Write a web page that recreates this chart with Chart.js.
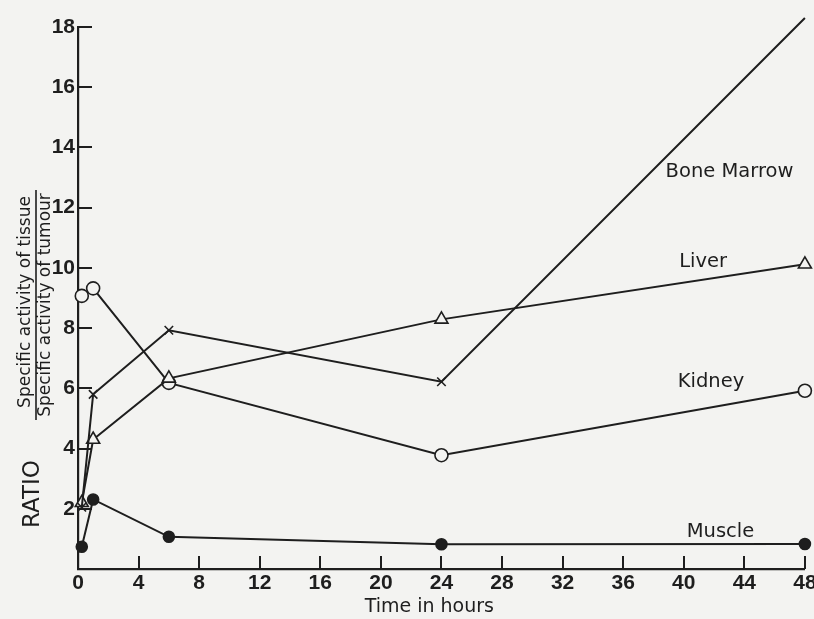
<!DOCTYPE html>
<html>
<head>
<meta charset="utf-8">
<script src="https://cdn.jsdelivr.net/npm/chart.js@4.4.1/dist/chart.umd.min.js"></script>
<style>
  html, body { margin: 0; padding: 0; background: #f3f3f1; }
  #wrap { width: 814px; height: 619px; }
</style>
</head>
<body>
<div id="wrap"><canvas id="c" width="814" height="619"></canvas></div>
<script>
// ---- data ----
const times      = [0.25, 1, 6, 24, 48];            // hours
const boneMarrow = [2.05, 5.8, 7.93, 6.22, 18.3];
const liver      = [2.2, 4.3, 6.33, 8.29, 10.12];
const kidney     = [9.07, 9.32, 6.18, 3.78, 5.92];
const muscle     = [0.74, 2.31, 1.07, 0.82, 0.83];
const seriesNames = ['Bone Marrow', 'Liver', 'Kidney', 'Muscle'];
const xTickValues = [0, 4, 8, 12, 16, 20, 24, 28, 32, 36, 40, 44, 48];
const yTickValues = [2, 4, 6, 8, 10, 12, 14, 16, 18];
const xTitle = 'Time in hours';
const yTitleMain = 'RATIO';
const yTitleNum = 'Specific activity of tissue';
const yTitleDen = 'Specific activity of tumour';

const PAPER = '#f3f3f1';
const INK = '#1e1e1e';
const LABEL_FONT = "'DejaVu Sans', 'Liberation Sans', sans-serif";
const TICK_FONT = "'Liberation Sans', 'DejaVu Sans', sans-serif";

function pts(ys) { return times.map((t, i) => ({ x: t, y: ys[i] })); }

const baseDs = { borderColor: INK, borderWidth: 2, tension: 0, clip: false,
                 pointBorderColor: INK, pointBorderWidth: 1.6, pointHoverRadius: 0 };

const datasets = [
  Object.assign({}, baseDs, { label: seriesNames[0], data: pts(boneMarrow), pointStyle: 'crossRot', pointRadius: 6, pointBackgroundColor: PAPER }),
  Object.assign({}, baseDs, { label: seriesNames[1], data: pts(liver), pointStyle: 'triangle', pointRadius: 7.5, pointBackgroundColor: PAPER }),
  Object.assign({}, baseDs, { label: seriesNames[2], data: pts(kidney), pointStyle: 'circle', pointRadius: 6.5, pointBackgroundColor: PAPER }),
  Object.assign({}, baseDs, { label: seriesNames[3], data: pts(muscle), pointStyle: 'circle', pointRadius: 5.5, pointBackgroundColor: INK }),
];

// where the series names sit, in data units (left edge x, middle y)
const nameAnchors = [
  { x: 38.8, y: 13.18 },
  { x: 39.7, y: 10.19 },
  { x: 39.6, y: 6.21 },
  { x: 40.2, y: 1.23 },
];

const decor = {
  id: 'decor',
  beforeDraw(chart) {
    const ctx = chart.ctx;
    ctx.save();
    ctx.fillStyle = PAPER;
    ctx.fillRect(0, 0, chart.width, chart.height);
    ctx.restore();
  },
  afterDraw(chart) {
    const ctx = chart.ctx;
    const xs = chart.scales.x, ys = chart.scales.y;
    const a = chart.chartArea;
    ctx.save();
    ctx.strokeStyle = INK;
    ctx.lineWidth = 2;
    // inner tick marks
    yTickValues.forEach(v => {
      const py = Math.round(ys.getPixelForValue(v));
      ctx.beginPath(); ctx.moveTo(a.left, py); ctx.lineTo(a.left + 14, py); ctx.stroke();
    });
    xTickValues.forEach(v => {
      if (v === 0) return;
      const px = Math.round(xs.getPixelForValue(v));
      ctx.beginPath(); ctx.moveTo(px, a.bottom); ctx.lineTo(px, a.bottom - 13); ctx.stroke();
    });
    // series names
    ctx.fillStyle = INK;
    ctx.font = "19.5px " + LABEL_FONT;
    ctx.textAlign = 'left';
    ctx.textBaseline = 'middle';
    seriesNames.forEach((n, i) => {
      ctx.fillText(n, xs.getPixelForValue(nameAnchors[i].x), ys.getPixelForValue(nameAnchors[i].y));
    });
    // x title
    ctx.textAlign = 'center';
    ctx.font = "19px " + LABEL_FONT;
    ctx.fillText(xTitle, xs.getPixelForValue(23.2), 607);
    // y title (rotated)
    ctx.rotate(-Math.PI / 2);
    ctx.font = "23px " + LABEL_FONT;
    ctx.fillText(yTitleMain, -494, 33);
    ctx.font = "17px " + LABEL_FONT;
    ctx.fillText(yTitleNum, -302, 26);
    ctx.fillText(yTitleDen, -305, 46);
    ctx.lineWidth = 1.6;
    ctx.beginPath(); ctx.moveTo(-190, 36); ctx.lineTo(-420, 36); ctx.stroke();
    ctx.restore();
  }
};

new Chart(document.getElementById('c'), {
  type: 'line',
  data: { datasets },
  plugins: [decor],
  options: {
    responsive: false,
    animation: false,
    events: [],
    layout: { padding: { top: 27, right: 8, left: 0, bottom: 0 } },
    plugins: { legend: { display: false }, tooltip: { enabled: false } },
    scales: {
      x: {
        type: 'linear', min: 0, max: 48,
        afterBuildTicks(s) { s.ticks = xTickValues.map(v => ({ value: v })); },
        afterFit(s) { s.height = 50; s.paddingLeft = 0; s.paddingRight = 0; },
        ticks: { color: INK, font: { family: TICK_FONT, size: 21, weight: 'bold' }, padding: 2, maxRotation: 0, autoSkip: false },
        grid: { display: false, drawTicks: false },
        border: { display: true, color: INK, width: 2.2 }
      },
      y: {
        type: 'linear', min: 0, max: 18,
        afterBuildTicks(s) { s.ticks = yTickValues.map(v => ({ value: v })); },
        afterFit(s) { s.width = 78; s.paddingTop = 0; s.paddingBottom = 0; },
        ticks: { color: INK, font: { family: TICK_FONT, size: 21, weight: 'bold' }, padding: 3, autoSkip: false },
        grid: { display: false, drawTicks: false },
        border: { display: true, color: INK, width: 2.2 }
      }
    }
  }
});
</script>
</body>
</html>
